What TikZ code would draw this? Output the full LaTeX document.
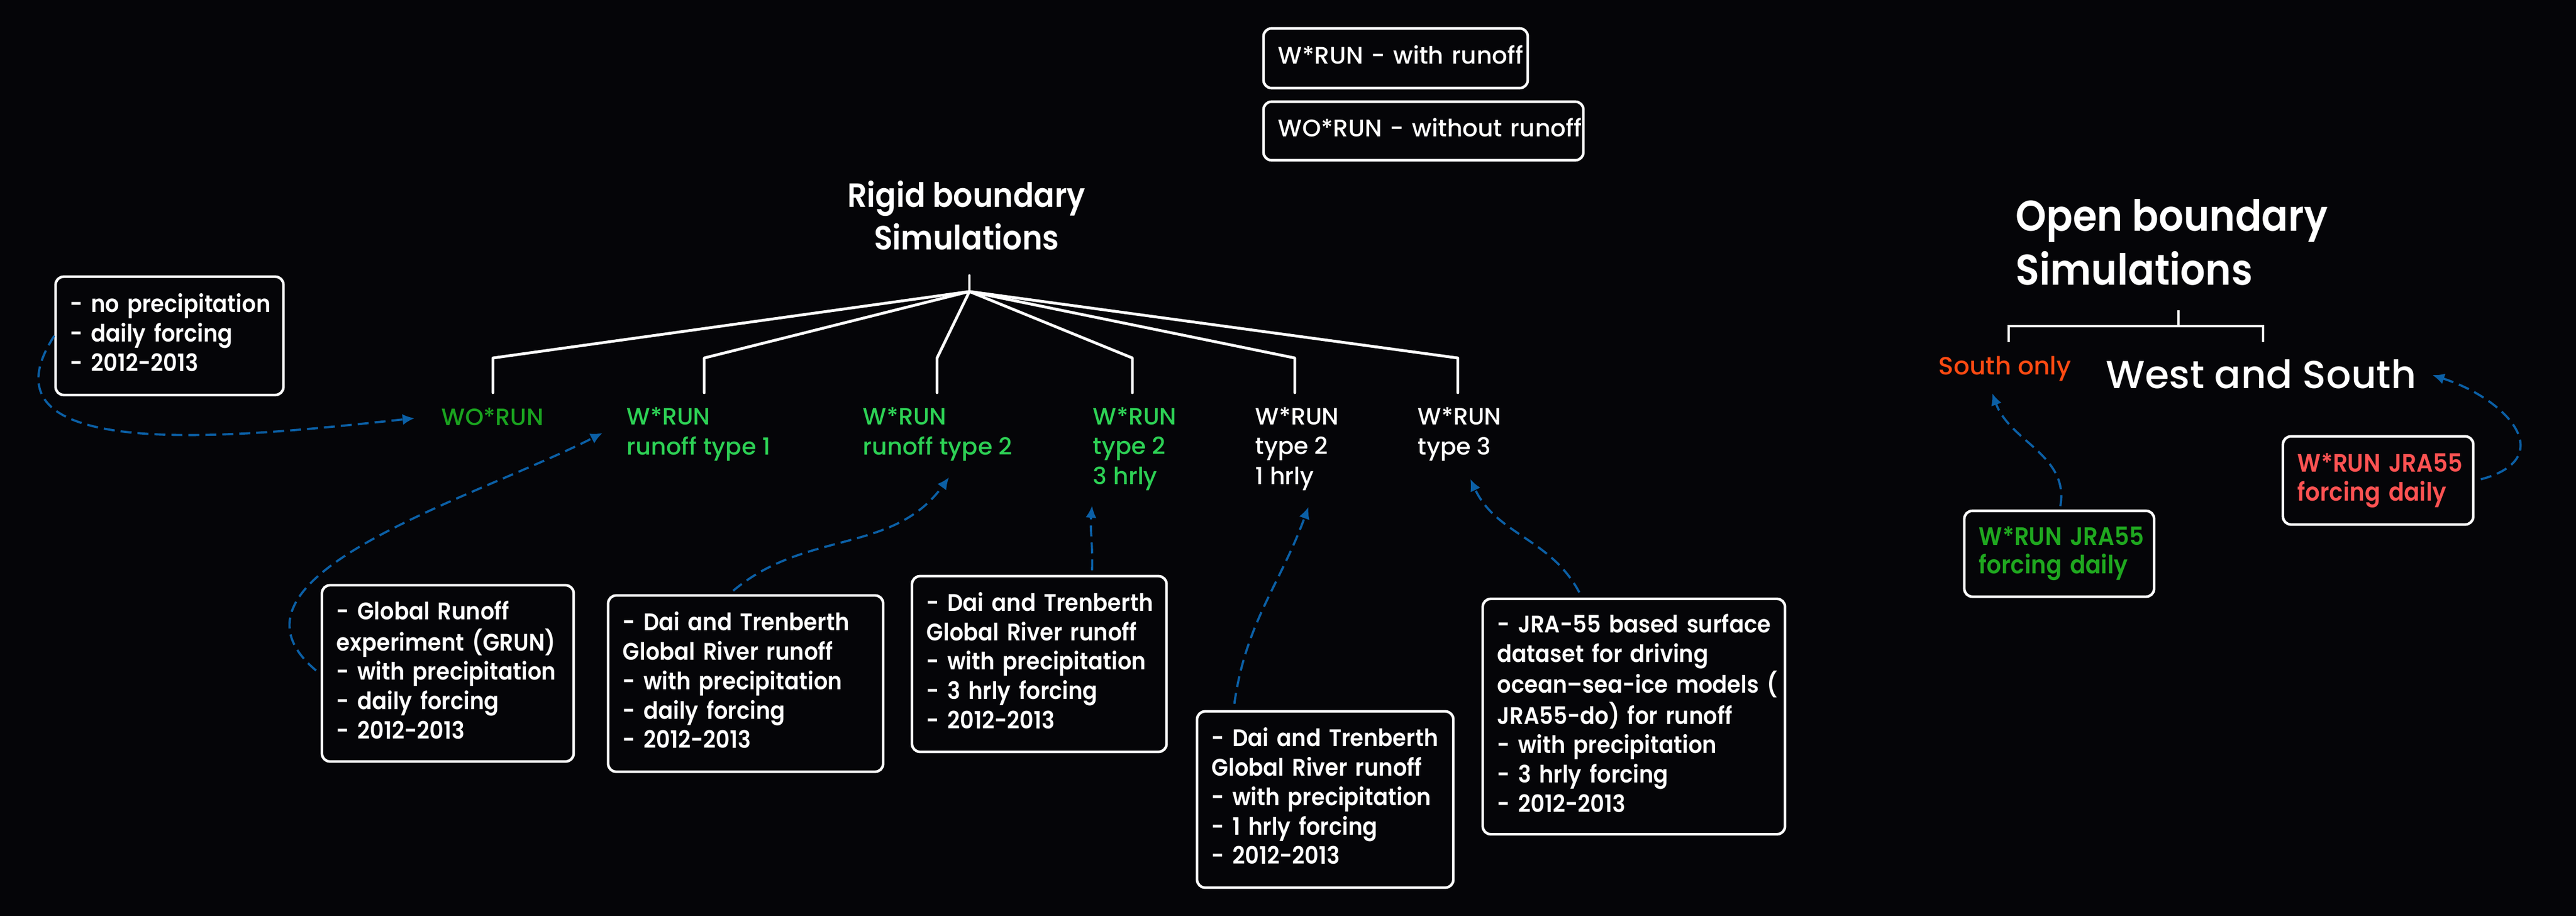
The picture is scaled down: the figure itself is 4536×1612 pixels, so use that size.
\documentclass[tikz,border=0pt]{standalone}
\usepackage{fontspec}
\setmainfont{Poppins}[UprightFont={* Medium},BoldFont={* SemiBold},BoldFeatures={FakeStretch=0.91}]
\usetikzlibrary{arrows.meta,calc}
\definecolor{bg}{HTML}{050508}
\definecolor{darkgreen}{HTML}{1AA31F}
\definecolor{lightgreen}{HTML}{2DD155}
\definecolor{boxgreen}{HTML}{1FA81F}
\definecolor{boxred}{HTML}{FF5252}
\definecolor{orangered}{HTML}{FF4A12}
\definecolor{flowblue}{HTML}{0B5FA5}
\newcommand{\boxlines}[1]{\begin{tabular}{@{}l@{}}#1\end{tabular}}
\tikzset{
  infobox/.style={draw=white, line width=1.3pt, rounded corners=4pt, fill=bg, text=white,
    font=\fontsize{12}{14.7}\selectfont\bfseries, align=left, inner xsep=0.26cm, inner ysep=0pt},
  lbl/.style={anchor=base west, inner sep=0pt, align=left, font=\fontsize{11.8}{14.8}\selectfont},
  tree/.style={draw=white, line width=1.4pt, line cap=round, line join=round},
  otree/.style={draw=white, line width=1pt},
  flow/.style={draw=flowblue, line width=1.1pt, dash pattern=on 5.5pt off 3pt,
    -{Latex[length=6pt,width=5.5pt]}},
}
\begin{document}
\begin{tikzpicture}[x=0.01cm,y=-0.01cm]
\path[use as bounding box, fill=bg] (0,0) rectangle (4536,1612);

% legend
\node[infobox, font=\fontsize{12}{14.8}\selectfont, minimum width=4.65cm, minimum height=1.05cm, text width=4.13cm] (leg1) at (2457.5,102.5) {\boxlines{W*RUN - with runoff}};
\node[infobox, font=\fontsize{12}{14.8}\selectfont, minimum width=5.63cm, minimum height=1.03cm, text width=5.11cm] (leg2) at (2506.5,230.5) {\boxlines{WO*RUN - without runoff}};

% rigid boundary title and tree (base anchor = last line)
\node[anchor=base, align=center, inner sep=0pt, text=white, font=\fontsize{16.8}{21.3}\selectfont\bfseries] (rigid) at (1702,439) {Rigid boundary\\ Simulations};

\node[lbl, text=darkgreen] (wo) at (777,748) {WO*RUN};
\node[lbl, text=lightgreen] (l1) at (1103,800) {W*RUN\\runoff type 1};
\node[lbl, text=lightgreen] (l2) at (1519,800) {W*RUN\\runoff type 2};
\node[lbl, text=lightgreen] (l3) at (1924,852) {W*RUN\\type 2\\3 hrly};
\node[lbl, text=white] (l4) at (2210,852) {W*RUN\\type 2\\1 hrly};
\node[lbl, text=white] (l5) at (2496,800) {W*RUN\\type 3};

\coordinate (hubtop) at (1707,485);
\coordinate (hub) at (1707,513);
\draw[tree] (hubtop) -- (hub);
\foreach \n/\dx/\dy in {wo/91/0, l1/137/52, l2/131/52, l3/70/104, l4/70/104, l5/71/52}
  \draw[tree] (hub) -- ($(\n.base west)+(\dx,{-118-\dy})$) -- ($(\n.base west)+(\dx,{-57-\dy})$);

% info boxes
\node[infobox, minimum width=4.01cm, minimum height=2.08cm, text width=3.49cm] (np) at (298.5,591)
  {\boxlines{- no precipitation\\- daily forcing\\- 2012-2013}};
\node[infobox, minimum width=4.43cm, minimum height=3.10cm, text width=3.91cm] (grun) at (788.5,1185)
  {\boxlines{- Global Runoff\\experiment (GRUN)\\- with precipitation\\- daily forcing\\- 2012-2013}};
\node[infobox, minimum width=4.84cm, minimum height=3.10cm, text width=4.32cm] (dai1) at (1313,1203)
  {\boxlines{- Dai and Trenberth\\Global River runoff\\- with precipitation\\- daily forcing\\- 2012-2013}};
\node[infobox, minimum width=4.48cm, minimum height=3.09cm, text width=3.96cm] (dai2) at (1830,1168.5)
  {\boxlines{- Dai and Trenberth\\Global River runoff\\- with precipitation\\- 3 hrly forcing\\- 2012-2013}};
\node[infobox, minimum width=4.51cm, minimum height=3.10cm, text width=3.99cm] (dai3) at (2333.5,1407)
  {\boxlines{- Dai and Trenberth\\Global River runoff\\- with precipitation\\- 1 hrly forcing\\- 2012-2013}};
\node[infobox, minimum width=5.32cm, minimum height=4.14cm, text width=4.80cm] (jra) at (2877,1261)
  {\boxlines{- JRA-55 based surface\\dataset for driving\\ocean–sea-ice models (\\JRA55-do) for runoff\\- with precipitation\\- 3 hrly forcing\\- 2012-2013}};

% open boundary
\node[anchor=base west, align=left, inner sep=0pt, text=white, font=\fontsize{21.5}{27}\selectfont\bfseries] (open) at (3549,501) {Open boundary\\Simulations};
\node[anchor=base west, inner sep=0pt, text=orangered, font=\fontsize{12.5}{15}\selectfont] (south) at (3413,659) {South only};
\node[anchor=base west, inner sep=0pt, text=white, font=\fontsize{19.5}{24}\selectfont] (ws) at (3708,683) {West and South};
\coordinate (ohubtop) at (3836,546);
\coordinate (ohub) at (3836,574);
\coordinate (oleft) at (3537,574);
\coordinate (oright) at (3985,574);
\draw[otree] (ohubtop) -- (ohub);
\draw[otree] (oleft |- 0,602) -- (oleft) -- (oright) -- (oright |- 0,602);

\node[infobox, text=boxgreen, font=\fontsize{12.6}{14}\selectfont\bfseries, minimum width=3.34cm, minimum height=1.51cm, text width=2.82cm] (gbox) at (3626,974.5)
  {\boxlines{W*RUN JRA55\\forcing daily}};
\node[infobox, text=boxred, font=\fontsize{12.6}{14.5}\selectfont\bfseries, minimum width=3.35cm, minimum height=1.55cm, text width=2.83cm] (rbox) at (4187.5,845.5)
  {\boxlines{W*RUN JRA55\\forcing daily}};

% dashed connectors
\draw[flow] (np.west) to[out=237, in=186, looseness=1.1] ($(wo.base west)+(-47,-12)$);
\draw[flow] ($(grun.west)+(-8,-5)$) to[out=140, in=207] ($(l1.base west)+(-42,-38)$);
\draw[flow] ($(dai1.north)+(-22,-6)$) to[out=40, in=234] ($(l2.base west)+(152,40)$);
\draw[flow] ($(dai2.north)+(93,-8)$) to[out=88, in=-95] ($(l3.base west)+(-1,38)$);
\draw[flow] ($(dai3.north)+(-160,-11)$) to[out=82, in=250] ($(l4.base west)+(94,40)$);
\draw[flow] ($(jra.north)+(-96,-9)$) to[out=118, in=-65] ($(l5.base west)+(93,43)$);
\draw[flow] ($(gbox.north)+(2,-6)$) to[out=80, in=-70] ($(south.base west)+(95,33)$);
\draw[flow] ($(rbox.east)+(11,-2)$) to[out=15, in=-18, looseness=1.8] ($(ws.base west)+(575,-23)$);
\end{tikzpicture}
\end{document}
